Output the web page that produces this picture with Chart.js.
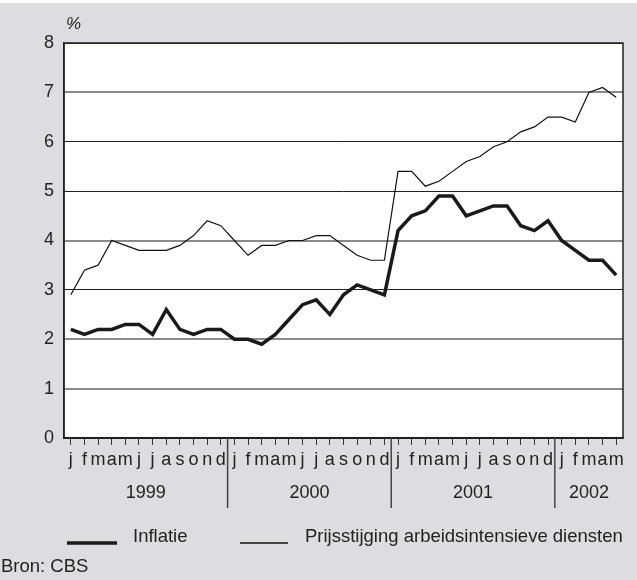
<!DOCTYPE html>
<html>
<head>
<meta charset="utf-8">
<script src="https://cdn.jsdelivr.net/npm/chart.js@4"></script>
<style>
  body { margin: 0; background: #dcdde0; }
  #wrap { position: relative; width: 637px; height: 580px; }
</style>
</head>
<body>
<div id="wrap"><canvas id="myChart" width="637" height="580"></canvas></div>
<script>
// maanden jan 1999 - mei 2002
var maanden = ['j','f','m','a','m','j','j','a','s','o','n','d',
               'j','f','m','a','m','j','j','a','s','o','n','d',
               'j','f','m','a','m','j','j','a','s','o','n','d',
               'j','f','m','a','m'];
var jaren = ['1999', '2000', '2001', '2002'];
var jaarStart = [0, 12, 24, 36];

var inflatie = [2.2, 2.1, 2.2, 2.2, 2.3, 2.3, 2.1, 2.6, 2.2, 2.1, 2.2, 2.2,
                2.0, 2.0, 1.9, 2.1, 2.4, 2.7, 2.8, 2.5, 2.9, 3.1, 3.0, 2.9,
                4.2, 4.5, 4.6, 4.9, 4.9, 4.5, 4.6, 4.7, 4.7, 4.3, 4.2, 4.4,
                4.0, 3.8, 3.6, 3.6, 3.3];
var prijsstijging = [2.9, 3.4, 3.5, 4.0, 3.9, 3.8, 3.8, 3.8, 3.9, 4.1, 4.4, 4.3,
                     4.0, 3.7, 3.9, 3.9, 4.0, 4.0, 4.1, 4.1, 3.9, 3.7, 3.6, 3.6,
                     5.4, 5.4, 5.1, 5.2, 5.4, 5.6, 5.7, 5.9, 6.0, 6.2, 6.3, 6.5,
                     6.5, 6.4, 7.0, 7.1, 6.9];

var FONT = '"Liberation Sans", Arial, sans-serif';

// extra tekst: %, jaren, scheidingslijnen, legenda, bron
var extras = {
  id: 'extras',
  beforeDraw: function(chart) {
    var ctx = chart.ctx, a = chart.chartArea;
    ctx.save();
    ctx.fillStyle = '#ffffff';
    ctx.fillRect(0, 0, chart.width, 3);
    ctx.fillRect(a.left, a.top, a.right - a.left, a.bottom - a.top);
    ctx.restore();
  },
  afterDraw: function(chart) {
    var ctx = chart.ctx, a = chart.chartArea, x = chart.scales.x;
    ctx.save();
    // kader
    ctx.strokeStyle = '#222';
    ctx.lineWidth = 1.5;
    ctx.strokeRect(a.left, a.top, a.right - a.left, a.bottom - a.top);

    ctx.fillStyle = '#222';
    ctx.font = 'italic 17px ' + FONT;
    ctx.textBaseline = 'middle';
    ctx.fillText('%', a.left + 2, 24);

    // jaar scheidingen + labels
    ctx.font = '18px ' + FONT;
    ctx.textAlign = 'center';
    ctx.strokeStyle = '#444';
    ctx.lineWidth = 1.5;
    for (var i = 0; i < jaren.length; i++) {
      var s = jaarStart[i];
      var e = (i + 1 < jaren.length) ? jaarStart[i + 1] - 1 : maanden.length - 1;
      if (s > 0) {
        var sx = (x.getPixelForValue(s - 1) + x.getPixelForValue(s)) / 2;
        ctx.beginPath();
        ctx.moveTo(sx, a.bottom);
        ctx.lineTo(sx, 508);
        ctx.stroke();
      }
      var cx = (x.getPixelForValue(s) + x.getPixelForValue(e)) / 2;
      ctx.fillText(jaren[i], cx, 493);
    }

    // legenda
    ctx.font = '18.5px ' + FONT;
    ctx.textAlign = 'left';
    ctx.textBaseline = 'alphabetic';
    ctx.strokeStyle = '#1a1a1a';
    ctx.lineWidth = 3.5;
    ctx.beginPath(); ctx.moveTo(67, 543); ctx.lineTo(117, 543); ctx.stroke();
    ctx.fillText('Inflatie', 133, 542);
    ctx.strokeStyle = '#111';
    ctx.lineWidth = 1.3;
    ctx.beginPath(); ctx.moveTo(240, 543); ctx.lineTo(288, 543); ctx.stroke();
    ctx.fillText('Prijsstijging arbeidsintensieve diensten', 305, 542);
    ctx.fillText('Bron: CBS', 1, 572);
    ctx.restore();
  }
};

var grijs = [1, 2, 4, 7];

var ctx = document.getElementById('myChart').getContext('2d');
var myChart = new Chart(ctx, {
  type: 'line',
  data: {
    labels: maanden,
    datasets: [{
      label: 'Inflatie',
      data: inflatie,
      borderColor: '#1a1a1a',
      borderWidth: 3.5,
      pointRadius: 0,
      tension: 0,
      borderJoinStyle: 'miter'
    }, {
      label: 'Prijsstijging arbeidsintensieve diensten',
      data: prijsstijging,
      borderColor: '#111',
      borderWidth: 1.2,
      pointRadius: 0,
      tension: 0
    }]
  },
  options: {
    responsive: false,
    animation: false,
    devicePixelRatio: 1,
    layout: { padding: { top: 43, right: 14, bottom: 0, left: 0 } },
    plugins: { legend: { display: false }, tooltip: { enabled: false } },
    scales: {
      x: {
        offset: true,
        afterFit: function(scale) { scale.height = 142; },
        border: { display: true, color: '#222', width: 1.5 },
        grid: { display: true, drawOnChartArea: false, drawTicks: true, tickLength: 7, offset: false, color: '#333', lineWidth: 1 },
        ticks: { autoSkip: false, maxRotation: 0, padding: 4, color: '#222', font: { family: FONT, size: 18 } }
      },
      y: {
        min: 0,
        max: 8,
        afterFit: function(scale) { scale.width = 64; },
        border: { display: true, color: '#222', width: 1.5 },
        grid: {
          drawTicks: false,
          color: function(c) { return grijs.indexOf(c.tick.value) >= 0 ? '#8a8a8a' : '#222'; },
          lineWidth: function(c) { return grijs.indexOf(c.tick.value) >= 0 ? 2 : 1; }
        },
        ticks: { stepSize: 1, padding: 10, color: '#222', font: { family: FONT, size: 18 } }
      }
    }
  },
  plugins: [extras]
});
</script>
</body>
</html>
